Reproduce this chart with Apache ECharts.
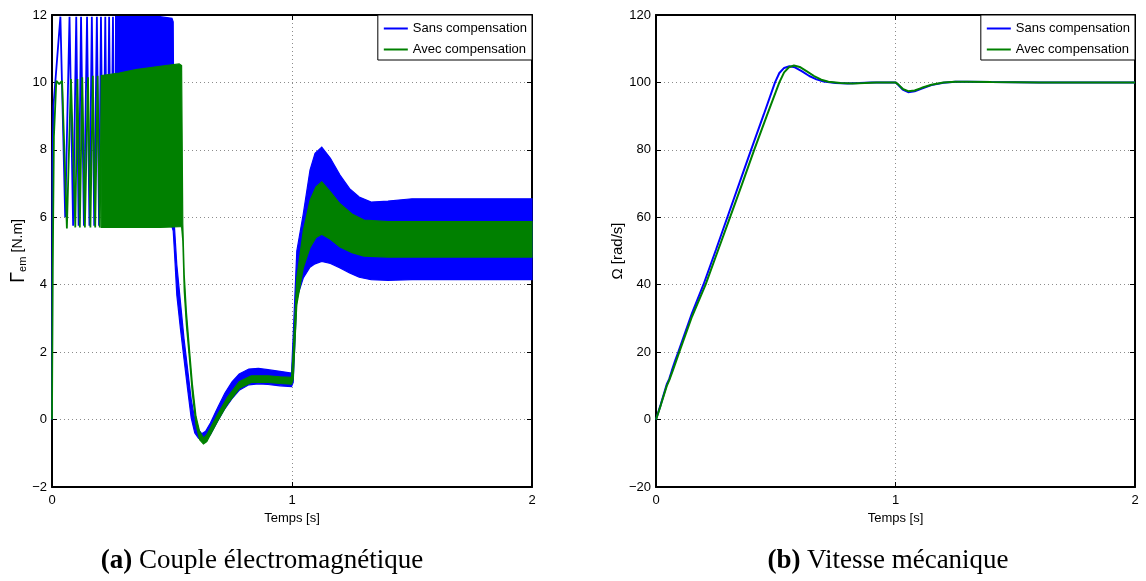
<!DOCTYPE html>
<html><head><meta charset="utf-8">
<script src="https://cdn.jsdelivr.net/npm/echarts@6/dist/echarts.min.js"></script>
<style>html,body{margin:0;padding:0;background:#fff}#c{width:1146px;height:581px}</style>
</head><body><div id="c"></div>
<script>
// ---------- Data ----------
var seriesNames = ['Sans compensation', 'Avec compensation'];
var xTicksLabel = 'Temps [s]';

// (a) Electromagnetic torque — early, resolvable oscillations
var blueEarlyT = [0, 0.002, 0.006, 0.035, 0.055, 0.073, 0.088, 0.101, 0.111, 0.121, 0.133, 0.146, 0.156, 0.166, 0.176, 0.187, 0.196, 0.204, 0.213, 0.222, 0.230, 0.238, 0.246, 0.254, 0.262, 0.27];
var blueEarlyV = [0, 7.5, 9.3, 11.95, 6.0, 11.95, 5.75, 11.95, 5.75, 11.95, 5.75, 11.95, 5.75, 11.95, 5.75, 11.95, 5.75, 11.95, 5.75, 11.95, 5.75, 11.95, 5.75, 11.95, 5.75, 11.95];
var greenEarlyT = [0, 0.003, 0.008, 0.018, 0.03, 0.042, 0.062, 0.079, 0.097, 0.106, 0.116, 0.126, 0.137, 0.15, 0.16, 0.17, 0.18, 0.19, 0.199, 0.208];
var greenEarlyV = [0, 4.5, 8.4, 10.05, 9.95, 10.05, 5.67, 10.1, 5.7, 10.1, 5.7, 10.15, 5.7, 10.15, 5.7, 10.2, 5.7, 10.2, 5.7, 10.2];

// (a) ripple envelopes (upper / lower) once the oscillation is dense
var blueBandT  = [0.265, 0.35, 0.45, 0.50, 0.505, 0.51, 0.52, 0.535, 0.55, 0.565, 0.58, 0.595, 0.61, 0.624, 0.64, 0.66, 0.69, 0.72, 0.75, 0.78, 0.82, 0.86, 0.9, 0.95, 0.998, 1.005, 1.02, 1.047, 1.075, 1.096, 1.124, 1.16, 1.2, 1.24, 1.28, 1.33, 1.4, 1.5, 1.7, 2.0];
var blueBandUp = [11.95, 11.95, 11.95, 11.9, 11.8, 5.75, 4.6, 3.5, 2.4, 1.5, 0.6, 0.0, -0.3, -0.42, -0.35, -0.1, 0.35, 0.78, 1.12, 1.35, 1.5, 1.52, 1.48, 1.43, 1.38, 2.5, 5.0, 6.1, 7.4, 7.9, 8.08, 7.75, 7.25, 6.85, 6.6, 6.45, 6.48, 6.55, 6.55, 6.55];
var blueBandLo = [5.75, 5.75, 5.75, 5.72, 5.6, 5.0, 3.7, 2.7, 1.8, 0.9, 0.05, -0.4, -0.55, -0.62, -0.6, -0.45, -0.05, 0.32, 0.62, 0.87, 1.03, 1.06, 1.04, 1.0, 0.98, 1.1, 3.6, 4.2, 4.52, 4.62, 4.69, 4.63, 4.5, 4.35, 4.22, 4.15, 4.13, 4.15, 4.15, 4.15];
var greenBandT  = [0.205, 0.28, 0.35, 0.45, 0.53, 0.54, 0.545, 0.551, 0.56, 0.572, 0.585, 0.6, 0.615, 0.631, 0.645, 0.66, 0.69, 0.73, 0.78, 0.83, 0.9, 0.95, 0.998, 1.005, 1.02, 1.047, 1.075, 1.1, 1.124, 1.16, 1.2, 1.25, 1.3, 1.4, 1.7, 2.0];
var greenBandUp = [10.2, 10.28, 10.38, 10.48, 10.55, 10.5, 5.8, 4.3, 3.2, 2.15, 1.05, 0.1, -0.35, -0.55, -0.45, -0.25, 0.15, 0.65, 1.12, 1.3, 1.3, 1.27, 1.25, 2.0, 4.2, 5.6, 6.5, 6.9, 7.05, 6.75, 6.4, 6.1, 5.92, 5.87, 5.87, 5.87];
var greenBandLo = [5.7, 5.7, 5.7, 5.7, 5.72, 5.72, 5.3, 3.8, 2.8, 1.85, 0.75, -0.15, -0.6, -0.72, -0.65, -0.45, -0.05, 0.45, 0.92, 1.1, 1.1, 1.07, 1.05, 1.2, 3.4, 4.5, 5.1, 5.4, 5.5, 5.35, 5.12, 4.95, 4.85, 4.82, 4.82, 4.82];

// (b) Mechanical speed
var blueSpeedT = [0, 0.02, 0.045, 0.055, 0.066, 0.08, 0.093, 0.15, 0.198, 0.25, 0.298, 0.35, 0.397, 0.45, 0.497, 0.515, 0.535, 0.557, 0.58, 0.61, 0.64, 0.67, 0.7, 0.75, 0.8, 0.85, 0.9, 1.0, 1.01, 1.03, 1.053, 1.08, 1.11, 1.15, 1.2, 1.25, 1.3, 1.4, 1.6, 2.0];
var blueSpeedV = [0, 4.5, 10.5, 12, 14.5, 17.5, 20, 31.5, 40, 50.3, 60, 70.5, 80, 90.5, 100, 102.8, 104.3, 104.8, 104.5, 103.3, 101.9, 100.9, 100.3, 99.8, 99.7, 99.8, 100, 100, 99.4, 97.9, 97.1, 97.4, 98.2, 99.2, 99.9, 100.2, 100.2, 100.1, 100, 100];
var greenSpeedT = [0, 0.02, 0.045, 0.055, 0.07, 0.097, 0.15, 0.207, 0.258, 0.309, 0.36, 0.41, 0.462, 0.515, 0.535, 0.555, 0.576, 0.6, 0.63, 0.66, 0.69, 0.72, 0.77, 0.82, 0.87, 0.92, 1.0, 1.01, 1.03, 1.053, 1.08, 1.11, 1.15, 1.2, 1.25, 1.3, 1.4, 1.6, 2.0];
var greenSpeedV = [0, 4.3, 10, 11.6, 14.5, 20, 30.5, 40, 50, 60, 70, 80, 90, 100, 103, 104.5, 105, 104.6, 103.3, 101.9, 100.8, 100.2, 99.8, 99.7, 99.8, 100, 100, 99.5, 98.1, 97.4, 97.6, 98.4, 99.3, 99.95, 100.2, 100.2, 100.1, 100, 100];

// ---------- Chart ----------
var BLUE = '#0000ff', GREEN = '#008000';
var FONT = 'Liberation Sans';
function pairs(t, v) { return t.map(function (x, i) { return [x, v[i]]; }); }
function minusFmt(v) { return String(v).replace('-', '\u2212'); }

var grids = [
  { left: 52, top: 15, width: 480, height: 472 },
  { left: 656, top: 15, width: 479, height: 472 }
];
var xAxes = [], yAxes = [];
function addAxes(gi, ymin, ymax, yint, yname, ynameGap) {
  var axisLine = { show: true, onZero: false, lineStyle: { color: '#000', width: 2 } };
  var tick = { show: true, inside: true, length: 5, lineStyle: { color: '#000', width: 1 } };
  var split = { show: true, lineStyle: { type: [1, 3], color: '#8c8c8c', width: 1 } };
  xAxes.push({ type: 'value', gridIndex: gi, min: 0, max: 2, interval: 1, position: 'bottom',
    axisLine: axisLine, axisTick: tick, splitLine: split,
    axisLabel: { color: '#000', fontSize: 13, fontFamily: FONT, margin: 7 },
    name: xTicksLabel, nameLocation: 'middle', nameGap: 24,
    nameTextStyle: { color: '#000', fontSize: 13, fontFamily: FONT } });
  xAxes.push({ type: 'value', gridIndex: gi, min: 0, max: 2, interval: 1, position: 'top',
    axisLine: axisLine, axisTick: tick, splitLine: { show: false }, axisLabel: { show: false } });
  yAxes.push({ type: 'value', gridIndex: gi, min: ymin, max: ymax, interval: yint, position: 'left',
    axisLine: axisLine, axisTick: tick, splitLine: split,
    axisLabel: { color: '#000', fontSize: 13, fontFamily: FONT, margin: 5, formatter: minusFmt },
    name: yname, nameLocation: 'middle', nameGap: ynameGap,
    nameTextStyle: { color: '#000', fontSize: 15, fontFamily: FONT,
      rich: {
        g: { fontSize: 20, fontFamily: FONT, color: '#000' },
        s: { fontSize: 11, fontFamily: FONT, color: '#000', verticalAlign: 'bottom', padding: [7, 0, 0, 0] },
        t: { fontSize: 14, fontFamily: FONT, color: '#000' }
      } } });
  yAxes.push({ type: 'value', gridIndex: gi, min: ymin, max: ymax, interval: yint, position: 'right',
    axisLine: axisLine, axisTick: tick, splitLine: { show: false }, axisLabel: { show: false } });
}
addAxes(0, -2, 12, 2, '{g|\u0393}{s|em} {t|[N.m]}', 24);
addAxes(1, -20, 120, 20, '\u03A9 [rad/s]', 26);

function lineSeries(name, xi, yi, t, v, color, w, z) {
  return { type: 'line', name: name, xAxisIndex: xi, yAxisIndex: yi, data: pairs(t, v),
    symbol: 'none', showSymbol: false, z: z,
    lineStyle: { color: color, width: w }, itemStyle: { color: color } };
}
function bandSeries(id, xi, yi, t, up, lo, color, z) {
  return { type: 'custom', name: id, coordinateSystem: 'cartesian2d', xAxisIndex: xi, yAxisIndex: yi,
    z: z, silent: true, data: [[t[0], up[0]]],
    renderItem: function (params, api) {
      var pts = [], i;
      for (i = 0; i < t.length; i++) pts.push(api.coord([t[i], up[i]]));
      for (i = t.length - 1; i >= 0; i--) pts.push(api.coord([t[i], lo[i]]));
      return { type: 'polygon', shape: { points: pts },
        style: { fill: color, stroke: color, lineWidth: 1.2 } };
    } };
}

function legendFor(right) {
  return { orient: 'vertical', right: right, top: 15, data: seriesNames,
    backgroundColor: '#fff', borderColor: '#000', borderWidth: 1,
    padding: [7, 5, 4, 5], itemWidth: 24, itemHeight: 14, itemGap: 8, itemTextGap: 4,
    itemStyle: { opacity: 0 }, lineStyle: { width: 2 },
    textStyle: { color: '#000', fontSize: 13, fontFamily: FONT } };
}

var option = {
  animation: false,
  backgroundColor: '#fff',
  grid: grids,
  xAxis: xAxes,
  yAxis: yAxes,
  legend: [legendFor(614), legendFor(11)],
  series: [
    lineSeries(seriesNames[0], 0, 0, blueEarlyT, blueEarlyV, BLUE, 1.8, 2),
    bandSeries('bandBlue', 0, 0, blueBandT, blueBandUp, blueBandLo, BLUE, 2),
    lineSeries(seriesNames[1], 0, 0, greenEarlyT, greenEarlyV, GREEN, 1.8, 3),
    bandSeries('bandGreen', 0, 0, greenBandT, greenBandUp, greenBandLo, GREEN, 3),
    lineSeries(seriesNames[0], 2, 2, blueSpeedT, blueSpeedV, BLUE, 2, 2),
    lineSeries(seriesNames[1], 2, 2, greenSpeedT, greenSpeedV, GREEN, 2, 3)
  ],
  graphic: [
    { type: 'text', x: 262, y: 561, z: 10,
      style: { text: '{b|(a)}  {n|Couple \u00e9lectromagn\u00e9tique}', align: 'center', verticalAlign: 'middle',
        rich: { b: { fontFamily: 'Liberation Serif', fontWeight: 'bold', fontSize: 27, fill: '#000' },
                n: { fontFamily: 'Liberation Serif', fontSize: 27, fill: '#000' } } } },
    { type: 'text', x: 888, y: 561, z: 10,
      style: { text: '{b|(b)}  {n|Vitesse m\u00e9canique}', align: 'center', verticalAlign: 'middle',
        rich: { b: { fontFamily: 'Liberation Serif', fontWeight: 'bold', fontSize: 27, fill: '#000' },
                n: { fontFamily: 'Liberation Serif', fontSize: 27, fill: '#000' } } } }
  ]
};
var chart = echarts.init(document.getElementById('c'));
chart.setOption(option);
</script>
</body></html>
